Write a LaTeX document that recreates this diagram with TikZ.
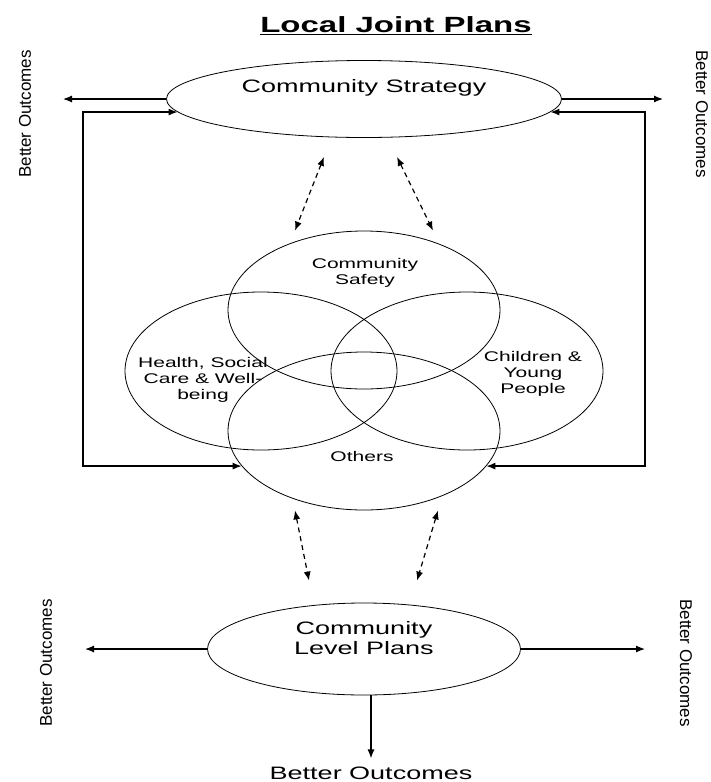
\documentclass[tikz,border=0pt]{standalone}
\usepackage{fontspec}
\setmainfont{Liberation Sans}
\newfontfamily\widesans[FakeStretch=1.5]{Liberation Sans}
\usepackage{tikz}
\usetikzlibrary{arrows.meta,positioning,shapes.geometric}

\begin{document}
\begin{tikzpicture}[x=1pt,y=-1pt,>={Latex[length=9pt,width=7pt]}, every node/.style={inner sep=1pt}]
\tikzstyle{oval}=[draw, ellipse, line width=0.8pt, inner sep=0pt]
\tikzstyle{ring}=[oval, minimum width=272pt, minimum height=158pt]
\tikzstyle{wide}=[font=\widesans\fontsize{18}{20}\selectfont, align=center]
\tikzstyle{small}=[font=\widesans\fontsize{14}{16}\selectfont, align=center]
\tikzstyle{side}=[font=\fontsize{17}{18}\selectfont]
\tikzstyle{link}=[line width=1.2pt]
\tikzstyle{both}=[link, dash pattern=on 5pt off 4pt, <->]
\useasboundingbox (0,0) rectangle (711,782);

\node[font=\widesans\bfseries\fontsize{22}{24}\selectfont] (title) at (396,26) {\underline{Local Joint Plans}};

\node[oval, minimum width=395pt, minimum height=77pt] (cs) at (364,99) {};
\node[wide, below=18pt of cs.north] (cstxt) {Community Strategy};

\node[ring] (safe) at (364,310) {};
\node[ring] (hsw) at (261,371) {};
\node[ring] (cyp) at (467,371) {};
\node[ring] (oth) at (364,431) {};
\node[small] (safetxt) at (365,273) {Community\\Safety};
\node[small] (hswtxt) at (203,380) {Health, Social\\Care \& Well-\\being};
\node[small] (cyptxt) at (533,374) {Children \&\\Young\\People};
\node[small] (othtxt) at (362,456) {Others};

\node[oval, minimum width=313pt, minimum height=92pt] (clp) at (364,649) {};
\node[wide, below=18pt of clp.north] (clptxt) {Community\\Level Plans};

\node[side, rotate=90] (boTL) at (25,114) {Better Outcomes};
\node[side, rotate=-90] (boTR) at (702,114) {Better Outcomes};
\node[side, rotate=90] (boBL) at (46,663) {Better Outcomes};
\node[side, rotate=-90] (boBR) at (686,663) {Better Outcomes};
\node[wide] (boB) at (371,773) {Better Outcomes};

\coordinate (outTL) at (63,99);
\coordinate (outTR) at (663,99);
\coordinate (loopL) at (83,300);
\coordinate (loopR) at (645,300);
\coordinate (outBL) at (85,649);
\coordinate (outBR) at (645,649);

\draw[link,->] (cs.west) -- (outTL);
\draw[link,->] (cs.east) -- (outTR);
\draw[link,<->] (cs.184) -| (loopL) |- (oth.196);
\draw[link,<->] (cs.-4) -| (loopR) |- (oth.-16);

\draw[both] ([shift={(-40,19)}]cs.south) -- ([xshift=-69pt]safe.north);
\draw[both] ([shift={(33,19)}]cs.south) -- ([xshift=69pt]safe.north);
\draw[both] ([xshift=-69pt]oth.south) -- ([shift={(-55,-22)}]clp.north);
\draw[both] ([xshift=74pt]oth.south) -- ([shift={(53,-22)}]clp.north);

\draw[link,->] (clp.west) -- (outBL);
\draw[link,->] (clp.east) -- (outBR);
\draw[link,->,shorten >=7pt] (clp.south -| boB.north) -- (boB.north);
\end{tikzpicture}
\end{document}
